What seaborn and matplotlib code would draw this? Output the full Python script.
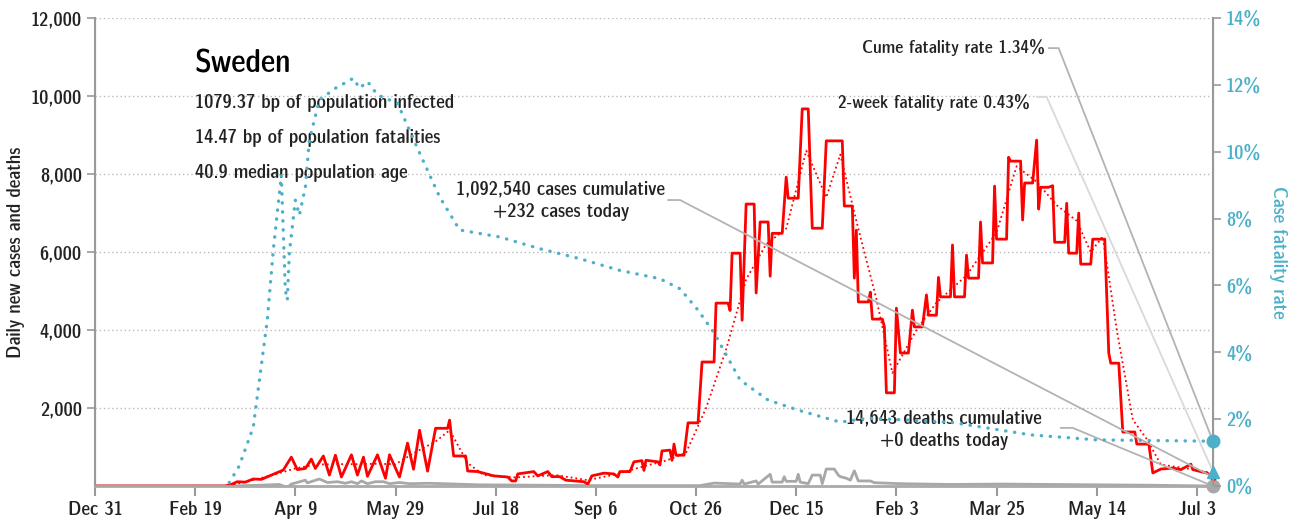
import pandas as pd
import seaborn as sns
import matplotlib.pyplot as plt
from matplotlib import font_manager as fm

start = pd.Timestamp("2019-12-31")

# daily new cases (days after Dec 31, 2019)
case_days = [0, 65, 68, 71, 75, 79, 83, 89, 94, 98, 101, 105, 108, 110, 114, 117, 120, 123, 128, 131,
             134, 136, 141, 145, 147, 152, 156, 159, 162, 166, 170, 176, 177, 179, 185, 186, 191, 199, 206, 208,
             210, 211, 219, 221, 226, 228, 232, 235, 244, 246, 248, 254, 259, 261, 262, 267, 269, 273, 274, 275,
             281, 282, 283, 287, 288, 289, 290, 294, 296, 301, 303, 309, 310, 316, 317, 318, 322, 323, 325, 329,
             330, 332, 336, 337, 338, 343, 345, 346, 351, 353, 356, 358, 363, 365, 373, 374, 378, 379, 380, 381,
             386, 387, 388, 393, 394, 395, 399, 400, 402, 406, 408, 409, 413, 415, 416, 420, 421, 422, 427, 428,
             429, 434, 435, 436, 441, 442, 443, 448, 449, 450, 455, 456, 457, 462, 463, 464, 468, 470, 471, 472,
             476, 478, 479, 484, 485, 486, 490, 491, 492, 497, 498, 504, 506, 507, 511, 513, 519, 520, 526, 528,
             532, 538, 542, 547, 548, 555, 558]
case_vals = [0, 0, 40, 110, 100, 180, 170, 300, 410, 740, 420, 450, 690, 450, 770, 280, 790, 230, 800, 280,
             740, 250, 800, 200, 800, 230, 1100, 430, 1430, 380, 1480, 1480, 1690, 770, 770, 385, 370, 260, 230, 130,
             130, 310, 370, 260, 370, 240, 240, 150, 110, 50, 260, 330, 310, 230, 370, 370, 620, 650, 400, 660,
             620, 540, 900, 920, 660, 1075, 790, 790, 1620, 1620, 3180, 3180, 4690, 4690, 4500, 5970, 5970, 4250, 7230, 7230,
             4950, 6770, 6770, 5380, 6480, 6480, 7920, 7380, 7380, 9670, 9670, 6610, 6610, 8850, 8850, 7180, 7180, 5330, 6560, 4720,
             4720, 4970, 4280, 4280, 4080, 2390, 2390, 4560, 3410, 3410, 4510, 4080, 4080, 4900, 4380, 4380, 5350, 4850, 4850, 6180,
             4850, 4850, 5920, 5330, 5330, 6770, 5720, 5720, 7690, 6330, 6330, 8430, 8330, 8330, 6820, 7770, 7770, 8870, 7100, 7660,
             7660, 7700, 6250, 6250, 7250, 5970, 5970, 7000, 5690, 5690, 6330, 6330, 3410, 3150, 3150, 1385, 1385, 1075, 1075, 335,
             435, 460, 420, 560, 420, 330, 260]

# 7-day average of cases
avg_days = [0, 65, 75, 90, 100, 110, 120, 130, 140, 150, 160, 170, 177, 186, 194, 210, 230, 246, 260, 275,
            285, 295, 305, 315, 325, 335, 345, 355, 365, 372, 380, 390, 398, 410, 420, 435, 450, 460, 470, 480,
            490, 497, 503, 510, 518, 525, 532, 545, 558]
avg_vals = [0, 0, 100, 300, 450, 550, 560, 560, 570, 560, 870, 1140, 1430, 590, 280, 220, 280, 150, 300, 520,
            650, 850, 2000, 3500, 5300, 6200, 6600, 8600, 7400, 8500, 6800, 4800, 2900, 4000, 4700, 5400, 6500, 8200, 7800, 7200,
            6800, 6000, 6400, 4000, 1700, 1200, 550, 450, 330]

# daily deaths
death_days = [0, 67, 82, 92, 96, 98, 105, 106, 112, 116, 121, 125, 128, 131, 133, 136, 140, 144, 147, 152,
              157, 167, 192, 252, 302, 309, 322, 323, 324, 330, 331, 337, 338, 343, 344, 345, 350, 351, 352, 356,
              358, 362, 363, 365, 369, 371, 372, 375, 377, 379, 381, 387, 389, 402, 427, 452, 477, 502, 527, 558]
death_vals = [0, 0, 20, 40, -40, 50, 150, 80, 180, 90, 110, 70, 110, 60, 130, 60, 110, 110, 60, 90,
              60, 70, 30, 10, 10, 75, 50, 150, 50, 130, 50, 300, 100, 100, 240, 120, 120, 300, 100, 60,
              280, 280, 60, 435, 435, 280, 240, 200, 150, 390, 130, 130, 85, 60, 40, 50, 40, 30, 20, 0]

# case fatality rate (%)
cfr_days = [67, 72, 79, 86, 89, 93, 95, 96, 97, 100, 102, 105, 107, 112, 120, 129, 132, 136, 141, 151,
            161, 172, 182, 202, 222, 242, 262, 282, 292, 301, 309, 322, 336, 351, 372, 386, 427, 467, 500, 558]
cfr_vals = [0.1, 0.6, 1.76, 4.97, 7.06, 9.3, 5.86, 5.56, 6.97, 8.55, 8.1, 8.94, 10.35, 11.55, 11.9, 12.2, 11.9, 12.1, 11.7, 11.45,
            10.1, 8.65, 7.66, 7.45, 7.1, 6.8, 6.45, 6.2, 5.9, 5.26, 4.58, 3.17, 2.57, 2.27, 1.91, 2.03, 1.91, 1.53, 1.38, 1.34]

tick_days = [0, 50, 100, 150, 200, 250, 300, 350, 400, 450, 500, 550]
tick_labels = ["Dec 31", "Feb 19", "Apr 9", "May 29", "Jul 18", "Sep 6", "Oct 26", "Dec 15",
               "Feb 3", "Mar 25", "May 14", "Jul 3"]

stats = ["1079.37 bp of population infected", "14.47 bp of population fatalities", "40.9 median population age"]
cume_rate = 1.34
week_rate = 0.43
cases_today = 232
last_day = 558

RED = "#ff0000"
BLUE = "#4bb0c8"
GRAY = "#a8a8a8"
TXT = "#222222"


def d(days):
    return start + pd.to_timedelta(days, unit="D")


def narrow_font():
    # look for any condensed / narrow face that is installed
    best = None
    for f in fm.fontManager.ttflist:
        path = f.fname.lower()
        if f.style != "normal":
            continue
        if "condensed" in path or "narrow" in path or f.stretch in ("condensed", "semi-condensed"):
            if "bold" in path or "light" in path or "thin" in path or "black" in path or "medium" in path:
                continue
            if "semi" in path or "extra" in path or "ultra" in path:
                continue
            if best is None or "dejavu" not in path:
                best = f
    return best


sns.set_style("white")
nf = narrow_font()
if nf is not None:
    plt.rcParams["font.family"] = [nf.name, "DejaVu Sans"]
    plt.rcParams["font.stretch"] = nf.stretch
else:
    plt.rcParams["font.family"] = ["DejaVu Sans"]

fig = plt.figure(figsize=(13.12, 5.24), dpi=100)
ax = fig.add_axes([0.0724, 0.0725, 0.8521, 0.8931])
ax2 = ax.twinx()

sns.lineplot(x=d(death_days), y=death_vals, ax=ax, color=GRAY, lw=2, estimator=None, sort=False)
sns.lineplot(x=d(avg_days), y=avg_vals, ax=ax, color=RED, lw=1.3, ls=":", estimator=None, sort=False)
sns.lineplot(x=d(case_days), y=case_vals, ax=ax, color=RED, lw=2, estimator=None, sort=False)
sns.lineplot(x=d(cfr_days), y=cfr_vals, ax=ax2, color=BLUE, lw=2.4, ls=(0, (0.1, 2.6)),
             dash_capstyle="round", estimator=None, sort=False)

# end markers
ax2.plot(d([last_day]), [cume_rate], "o", color=BLUE, ms=9, clip_on=False, zorder=5)
ax2.plot(d([last_day]), [week_rate], "^", color=BLUE, ms=8, clip_on=False, zorder=5)
ax.plot(d([last_day]), [0], "o", color=GRAY, ms=9, clip_on=False, zorder=5)
ax.plot(d([last_day]), [cases_today], "o", color=RED, ms=4, clip_on=False, zorder=5)

# leader lines
ax2.plot(d([476, 481, last_day]), [13.1, 13.1, cume_rate], color="#b3b3b3", lw=1.3, clip_on=False)
ax2.plot(d([470, 475, last_day]), [11.64, 11.64, week_rate], color="#d9d9d9", lw=1.3, clip_on=False)
ax.plot(d([286, 292, last_day]), [7333, 7333, cases_today], color="#b3b3b3", lw=1.3, clip_on=False)
ax.plot(d([482, 488, last_day]), [1490, 1490, 0], color="#b3b3b3", lw=1.3, clip_on=False)

ax.set_xlim(d(0), d(last_day))
ax.set_ylim(0, 12000)
ax2.set_ylim(0, 14)
ax.set_yticks([2000, 4000, 6000, 8000, 10000, 12000])
ax.set_yticklabels([f"{v:,}" for v in [2000, 4000, 6000, 8000, 10000, 12000]])
ax2.set_yticks(range(0, 15, 2))
ax2.set_yticklabels([f"{v}%" for v in range(0, 15, 2)])
ax.set_xticks(d(tick_days))
ax.set_xticklabels(tick_labels)

ax.grid(axis="y", color="#bbbbbb", ls=(0, (1, 2)), lw=1)
ax.set_axisbelow(True)
for a in (ax, ax2):
    a.spines["top"].set_visible(False)
    a.spines["left"].set_color("#999999")
    a.spines["right"].set_color("#999999")
    a.spines["bottom"].set_color("#aaaaaa")
ax.spines["bottom"].set_linewidth(2)
ax.spines["left"].set_linewidth(1.5)
ax2.spines["right"].set_linewidth(1.5)
ax.tick_params(axis="y", length=6, width=1.2, color="#999999", labelsize=14, labelcolor=TXT, left=True)
ax.tick_params(axis="x", length=7, width=1.5, color="#999999", labelsize=14, labelcolor=TXT, bottom=True)
ax2.tick_params(axis="y", length=6, width=1.2, color="#999999", labelsize=14, labelcolor=BLUE, right=True)
ax.set_xlabel("")
ax.set_ylabel("Daily new cases and deaths", fontsize=14, color=TXT)
ax2.set_ylabel("Case fatality rate", fontsize=14, color=BLUE, rotation=-90, labelpad=18)

ax.text(0.0894, 0.902, "Sweden", transform=ax.transAxes, fontsize=23, color="black", va="center")
for i, s in enumerate(stats):
    ax.text(0.0894, 0.818 - i * 0.0745, s, transform=ax.transAxes, fontsize=14, color=TXT, va="center")

ax.text(0.8497, 0.936, f"Cume fatality rate {cume_rate}%", transform=ax.transAxes,
        fontsize=13, color=TXT, ha="right", va="center")
ax.text(0.8363, 0.8205, f"2-week fatality rate {week_rate}%", transform=ax.transAxes,
        fontsize=13, color=TXT, ha="right", va="center")
ax.text(0.4168, 0.609, f"1,092,540 cases cumulative\n+{cases_today} cases today", transform=ax.transAxes,
        fontsize=14, color=TXT, ha="center", va="center", linespacing=1.3)
ax.text(0.7594, 0.1207, "14,643 deaths cumulative\n+0 deaths today", transform=ax.transAxes,
        fontsize=14, color=TXT, ha="center", va="center", linespacing=1.3)

fig.savefig("out.png", dpi=100)
